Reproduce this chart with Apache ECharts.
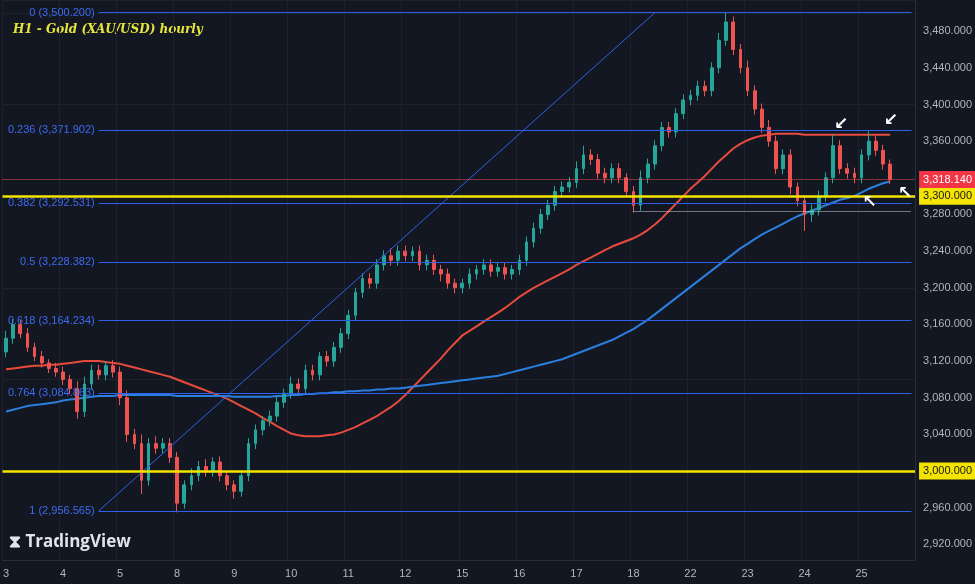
<!DOCTYPE html>
<html><head><meta charset="utf-8">
<script src="https://cdn.jsdelivr.net/npm/echarts@6/dist/echarts.min.js"></script>
<style>html,body{margin:0;padding:0;background:#131722}#c{width:975px;height:584px}</style>
</head><body><div id="c"></div>
<script>
const days = ['3','4','5','8','9','10','11','12','15','16','17','18','22','23','24','25'];
const firstOpen = 3130;
const closes = [
3145,3160,3150,3135,3125,3118,3112,3108,
3100,3090,3065,3095,3110,3105,3115,3108,
3080,3040,3030,2990,3030,3025,3030,3015,
2965,2985,2995,3005,3000,3010,2995,2985,
2978,2995,3030,3045,3055,3060,3075,3085,
3095,3090,3110,3105,3125,3120,3135,3150,
3170,3195,3210,3205,3225,3235,3230,3240,
3235,3240,3225,3230,3220,3215,3205,3200,
3205,3215,3220,3225,3218,3222,3215,3220,
3230,3250,3265,3280,3290,3305,3310,3315,
3330,3345,3340,3325,3320,3330,3320,3305,
3290,3320,3335,3355,3375,3370,3390,3405,
3410,3420,3415,3440,3470,3490,3460,3440,
3415,3395,3375,3360,3330,3345,3310,3295,
3280,3285,3300,3320,3355,3330,3325,3320,
3345,3360,3350,3335,3318];
const wickUp = [
8,6,5,6,5,6,4,6, 6,5,8,8,6,6,5,6, 6,8,6,10,6,8,6,6, 6,5,8,6,8,5,6,5,
5,6,6,6,5,6,6,5, 8,6,6,6,5,6,6,6, 6,5,6,6,6,6,8,6, 6,5,6,6,6,5,6,5,
5,6,5,6,6,5,6,5, 6,6,6,6,6,6,6,6, 8,10,6,6,6,6,6,5, 6,8,6,6,6,6,6,6,
6,6,6,6,8,10,6,6, 8,6,6,8,6,6,6,5, 6,6,6,6,12,6,6,6, 6,12,6,6,5];
const wickDn = [
6,6,5,5,5,5,5,5, 6,6,8,6,6,5,6,6, 8,8,6,15,6,6,6,6, 10,6,6,6,6,6,6,6,
8,6,6,6,6,6,6,6, 6,6,6,6,6,6,6,6, 6,6,6,6,6,6,6,6, 6,6,6,6,6,8,6,6,
6,6,6,6,6,6,6,6, 6,6,6,6,6,6,6,6, 6,6,6,6,6,6,6,6, 8,6,6,6,6,6,6,6,
6,6,6,6,6,6,6,6, 6,6,6,6,6,6,8,6, 18,8,6,6,6,6,6,6, 6,6,6,6,5];
const maRed = [
3111,3112,3113,3114,3115,3115,3116,3116,
3117,3118,3119,3120,3120,3120,3119,3118,
3117,3115,3113,3111,3109,3107,3105,3103,
3100,3097,3094,3091,3088,3085,3082,3079,
3075,3071,3067,3063,3058,3054,3049,3045,
3041,3039,3038,3038,3038,3039,3040,3042,
3045,3048,3052,3056,3060,3065,3070,3076,
3083,3091,3099,3107,3115,3123,3132,3140,
3148,3153,3158,3163,3168,3173,3178,3184,
3190,3195,3200,3204,3208,3212,3216,3220,
3225,3229,3233,3237,3241,3245,3248,3251,
3254,3258,3263,3269,3276,3284,3292,3300,
3308,3315,3322,3330,3338,3345,3352,3357,
3361,3364,3366,3367,3368,3368,3368,3368,
3367,3367,3367,3367,3367,3367,3367,3367,
3367,3367,3367,3367,3367];
const maBlue = [
3065,3067,3069,3071,3072,3073,3074,3075,
3077,3078,3079,3080,3081,3082,3082,3082,
3083,3083,3083,3083,3083,3083,3083,3083,
3082,3082,3082,3082,3082,3082,3082,3082,
3081,3081,3081,3081,3081,3081,3082,3082,
3083,3083,3084,3084,3085,3085,3086,3086,
3087,3087,3088,3088,3089,3089,3090,3090,
3091,3092,3093,3094,3095,3096,3097,3098,
3099,3100,3101,3102,3103,3104,3106,3108,
3110,3112,3114,3116,3118,3120,3122,3125,
3128,3131,3134,3137,3140,3143,3147,3151,
3155,3160,3165,3171,3177,3183,3189,3195,
3201,3207,3213,3219,3225,3231,3237,3243,
3248,3253,3258,3262,3266,3270,3274,3278,
3281,3284,3287,3290,3293,3296,3298,3300,
3304,3308,3311,3314,3316];
const fibLevels = [['0',3500.2],['0.236',3371.902],['0.382',3292.531],['0.5',3228.382],['0.618',3164.234],['0.764',3084.863],['1',2956.565]];
const yTicks = [2920,2960,3000,3040,3080,3120,3160,3200,3240,3280,3320,3360,3400,3440,3480];
const yellowLevels = [3300, 3000];
const lastPrice = 3318.14;
const supportLevel = 3283;
const arrows = [[116,3367,'↙'],[123,3372,'↙'],[120,3304,'↖'],[125,3314,'↖']];

const N = 128;
const cats = [];
for (let i = 0; i < N; i++) cats.push(i % 8 === 0 ? (days[i/8] || '') : '');
const ohlc = closes.map((c,i)=>{
  const o = i===0 ? firstOpen : closes[i-1];
  return [o, c, Math.min(o,c)-wickDn[i], Math.max(o,c)+wickUp[i]];
});
const fmt = v => v.toLocaleString('en-US',{minimumFractionDigits:3,maximumFractionDigits:3});
const fibBlue = '#2f5fe8';
const fibStyle = {color:fibBlue, width:1, type:'solid', opacity:1};
const markLines = fibLevels.map(([k,v])=>[
  {coord:[12.5,v], lineStyle:fibStyle, label:{show:true, position:'start', formatter:k+' ('+fmt(v)+')', color:'#3d6af0', fontSize:11, distance:4}},
  {coord:[N-1,v]}
]);
markLines.push([{coord:[12.5,2956.565], lineStyle:fibStyle},{coord:[91,3500.2]}]);

const chart = echarts.init(document.getElementById('c'));
chart.setOption({
  backgroundColor:'#131722',
  animation:false,
  grid:{left:0,right:57,top:0,bottom:24},
  graphic:[
    {type:'text', left:13, top:24, style:{text:'H1 - Gold (XAU/USD) hourly', fill:'#e6e53a', font:'italic bold 12px "DejaVu Serif", serif'}},
    {type:'text', left:9, top:534, style:{text:'⧗ TradingView', fill:'#e0e3eb', font:'bold 17px "Open Sans", sans-serif'}}
  ],
  xAxis:{type:'category', data:cats, boundaryGap:true,
    axisLine:{lineStyle:{color:'#2a2e39'}}, axisTick:{show:false},
    axisLabel:{interval:0, color:'#b2b5be', fontSize:11, formatter:v=>v},
    splitLine:{show:true, interval:(i)=>i%8===0, lineStyle:{color:'#1e222d'}}},
  yAxis:{type:'value', position:'right', min:2903, max:3514, scale:true,
    axisLine:{show:true, lineStyle:{color:'#2a2e39'}}, axisTick:{show:false},
    axisLabel:{customValues:yTicks, color:'#b2b5be', fontSize:11, formatter:fmt, margin:8},
    splitLine:{show:true, lineStyle:{color:'#1e222d'}}},
  series:[
    {type:'line', data:maRed, showSymbol:false, lineStyle:{color:'#e84b3c', width:2}, z:3},
    {type:'line', data:maBlue, showSymbol:false, lineStyle:{color:'#2a7fde', width:2}, z:3},
    {type:'candlestick', data:ohlc, barWidth:'45%', z:4,
      itemStyle:{color:'#26a69a', color0:'#ef5350', borderColor:'#26a69a', borderColor0:'#ef5350'},
      markLine:{symbol:'none', silent:true, animation:false, data:markLines},
      markPoint:{symbol:'circle', symbolSize:1, itemStyle:{color:'rgba(0,0,0,0)'},
        data:arrows.map(a=>({coord:[a[0],a[1]], label:{show:true, formatter:a[2], color:'#ffffff', fontSize:17, fontWeight:'bold', fontFamily:'DejaVu Sans', position:'inside', offset:a[2]==='↙'?[8,-10]:[8,10]}}))}
    },
    {type:'line', data:[], z:5,
      markLine:{symbol:'none', silent:true, animation:false, data:[
        ...yellowLevels.map(v=>({yAxis:v, lineStyle:{color:'#f5e400', width:2.5, type:'solid'},
          label:{show:true, position:'end', formatter:fmt(v), backgroundColor:'#f5e400', color:'#131722', fontSize:11, padding:[3,4], distance:4}})),
        {yAxis:lastPrice, lineStyle:{color:'#ef5350', width:1, type:'dotted'},
          label:{show:true, position:'end', formatter:fmt(lastPrice), backgroundColor:'#f23645', color:'#ffffff', fontSize:11, padding:[3,4], distance:4}},
        [{coord:[88,supportLevel], lineStyle:{color:'#d1d4dc', width:1, type:'dotted'}, label:{show:false}},{coord:[N-1,supportLevel]}]
      ]}}
  ]
});
</script></body></html>
